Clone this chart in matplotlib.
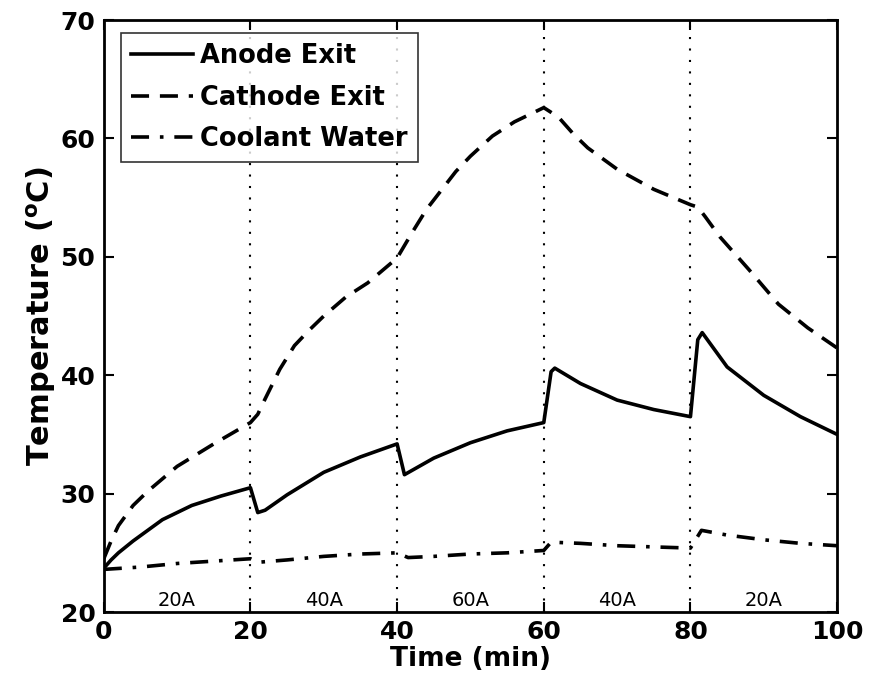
import matplotlib
matplotlib.use("Agg")
import matplotlib.pyplot as plt
import numpy as np

# ---- data ----
anode_t = [0, 1, 2, 4, 8, 12, 16, 20, 21, 22, 25, 30, 35, 40, 41, 45, 50, 55, 60, 61, 61.5,
           65, 70, 75, 80, 81, 81.6, 85, 90, 95, 100]
anode_T = [23.7, 24.4, 25.0, 26.0, 27.8, 29.0, 29.8, 30.5, 28.4, 28.6, 29.9, 31.8, 33.1, 34.2, 31.6,
           33.0, 34.3, 35.3, 36.0, 40.3, 40.6, 39.3, 37.9, 37.1, 36.5, 43.0, 43.6, 40.7, 38.3, 36.5, 35.0]

cathode_t = [0, 1, 2, 4, 6, 10, 15, 20, 21, 22, 24, 26, 28, 30, 33, 36, 40, 42, 44, 46, 48,
             50, 53, 56, 60, 62, 64, 66, 70, 75, 80, 81, 82, 84, 88, 92, 96, 100]
cathode_T = [24.5, 26.0, 27.3, 29.0, 30.2, 32.3, 34.2, 36.0, 36.7, 38.0, 40.5, 42.5, 43.8, 45.0,
             46.6, 47.8, 49.9, 52.0, 54.0, 55.6, 57.2, 58.5, 60.2, 61.4, 62.6, 61.8, 60.4, 59.2,
             57.4, 55.7, 54.4, 54.2, 53.4, 51.7, 48.9, 46.0, 44.0, 42.3]

coolant_t = [0, 5, 10, 15, 20, 21, 25, 30, 35, 40, 41.5, 45, 50, 55, 60, 61, 65, 70, 75, 80,
             81.5, 85, 90, 95, 100]
coolant_T = [23.6, 23.8, 24.1, 24.3, 24.5, 24.2, 24.4, 24.7, 24.9, 25.0, 24.6, 24.7, 24.9, 25.0,
             25.2, 25.9, 25.8, 25.6, 25.5, 25.4, 26.9, 26.5, 26.1, 25.8, 25.6]

switch_times = [20, 40, 60, 80]
current_labels = ["20A", "40A", "60A", "40A", "20A"]
label_centers = [10, 30, 50, 70, 90]

series_names = ["Anode Exit", "Cathode Exit", "Coolant Water"]

# ---- figure ----
fig = plt.figure(figsize=(8.72, 6.9), dpi=100)
ax = fig.add_axes([0.119, 0.113, 0.841, 0.858])

ax.plot(anode_t, anode_T, color="black", lw=2.6, ls="-", label=series_names[0])
ax.plot(cathode_t, cathode_T, color="black", lw=2.6, ls=(0, (5, 3)), label=series_names[1])
ax.plot(coolant_t, coolant_T, color="black", lw=2.6, ls=(0, (5, 3, 1, 3)), label=series_names[2])

for st in switch_times:
    ax.axvline(st, color="black", lw=1.5, ls=(0, (1, 4.5)), zorder=0)

for c, lab in zip(label_centers, current_labels):
    ax.text(c, 21.0, lab, ha="center", va="center", fontsize=14,
            family=["Liberation Sans Narrow", "DejaVu Sans"])

ax.set_xlim(0, 100)
ax.set_ylim(20, 70)
ax.set_xticks([0, 20, 40, 60, 80, 100])
ax.set_yticks([20, 30, 40, 50, 60, 70])
ax.tick_params(direction="in", length=7, width=1.5, top=True, right=True,
               labelsize=18, pad=6)
for lbl in ax.get_xticklabels() + ax.get_yticklabels():
    lbl.set_fontweight("bold")
for sp in ax.spines.values():
    sp.set_linewidth(2)

ax.set_xlabel("Time (min)", fontsize=19, fontweight="bold", labelpad=1)
ax.set_ylabel(r"Temperature ($\mathbf{^{o}}$C)", fontsize=22, fontweight="bold", labelpad=2)

leg = ax.legend(loc="upper left", prop={"weight": "bold", "size": 18.5},
                frameon=True, fancybox=False, edgecolor="black", handlelength=2.4,
                handletextpad=0.3, borderpad=0.4, labelspacing=0.6,
                bbox_to_anchor=(0.023, 0.978), borderaxespad=0)
leg.get_frame().set_linewidth(1.2)

fig.savefig("out.png", dpi=100)
